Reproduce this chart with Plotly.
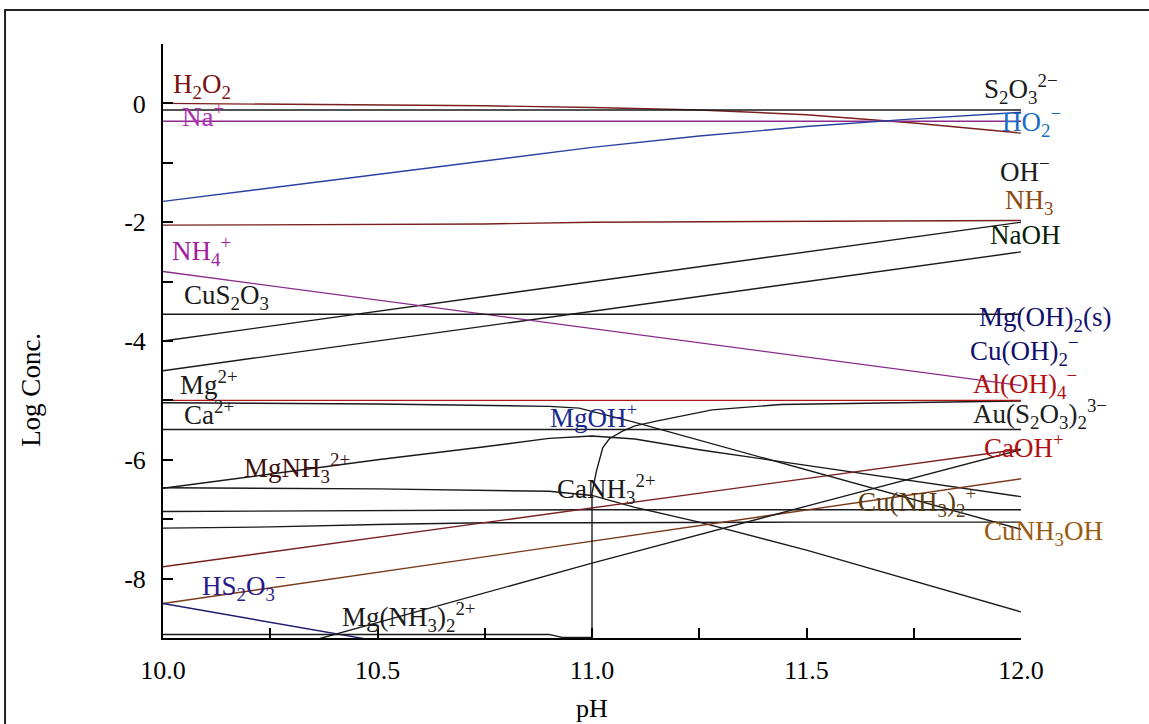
import plotly.graph_objects as go

# ---------------- data ----------------
ph_grid = [10.0, 10.25, 10.5, 10.75, 11.0, 11.25, 11.5, 11.75, 12.0]
ph_ends = [10.0, 12.0]

h2o2 = [0.0, -0.01, -0.02, -0.04, -0.07, -0.11, -0.19, -0.33, -0.50]
s2o3 = [-0.11, -0.11]
na_ion = [-0.30, -0.30]
ho2 = [-1.65, -1.42, -1.19, -0.96, -0.74, -0.55, -0.39, -0.26, -0.15]
nh3 = [-2.05, -2.04, -2.04, -2.03, -2.00, -1.99, -1.98, -1.98, -1.97]
oh = [-4.0, -2.0]
naoh = [-4.5, -2.5]
nh4 = [-2.83, -3.07, -3.31, -3.55, -3.78, -4.02, -4.27, -4.51, -4.75]
cus2o3 = [-3.55, -3.55]
mg_total = [-5.0, -5.0]
au_s2o3 = [-5.49, -5.49]
caoh = [-7.80, -5.82]
cunh3oh = [-8.42, -6.32]
cu_nh3_2 = [-6.87, -6.86, -6.85, -6.84, -6.84, -6.84, -6.84, -6.84, -6.84]
cuoh_aq = [-7.15, -7.13, -7.09, -7.06, -7.06, -7.05, -7.05, -7.05, -7.05]

ph_peak = [10.0, 10.25, 10.5, 10.75, 10.9, 11.0, 11.1, 11.25, 11.5, 11.75, 12.0]
mgnh3 = [-6.48, -6.24, -6.00, -5.78, -5.64, -5.60, -5.65, -5.83, -6.09, -6.35, -6.62]

ph_canh3 = [10.0, 10.5, 10.9, 11.0, 11.1, 11.25, 11.5, 11.75, 12.0]
canh3 = [-6.47, -6.49, -6.53, -6.60, -6.80, -7.05, -7.52, -8.04, -8.56]

ph_mg = [10.0, 10.5, 10.9, 10.97, 11.1, 11.5, 12.0]
mg_ion = [-5.04, -5.06, -5.10, -5.13, -5.37, -6.17, -7.17]

ph_solid = [10.0, 10.9, 10.93, 11.0, 11.0, 11.01, 11.025, 11.04, 11.07, 11.1, 11.15, 11.28, 11.44, 11.75, 12.0]
mgoh2_s = [-8.94, -8.94, -8.99, -8.99, -6.56, -6.20, -5.80, -5.65, -5.52, -5.43, -5.35, -5.16, -5.07, -5.03, -5.01]

ph_5 = [10.0, 10.5, 11.0, 11.5, 12.0]
mg_nh3_2 = [-9.74, -8.74, -7.74, -6.78, -5.83]

ph_3 = [10.0, 10.5, 11.0]
hs2o3 = [-8.42, -9.05, -9.70]

x_ticks = [10.0, 10.5, 11.0, 11.5, 12.0]
x_tick_text = ["10.0", "10.5", "11.0", "11.5", "12.0"]
y_ticks = [0, -2, -4, -6, -8]
y_tick_text = ["0", "-2", "-4", "-6", "-8"]

# ---------------- styles ----------------
MAROON = "#7a1f1f"
RED = "#b01515"
PURPLE = "#8b2a8b"
BLUE = "#2a40a0"
BROWN = "#7a3a1a"
NAVY = "#1c1c70"
BLACK = "#1a1a1a"
FONT = "Liberation Serif"

series = [
    (ph_grid, h2o2, MAROON, "H2O2"),
    (ph_ends, s2o3, BLACK, "S2O3"),
    (ph_ends, na_ion, PURPLE, "Na+"),
    (ph_grid, ho2, BLUE, "HO2-"),
    (ph_grid, nh3, MAROON, "NH3"),
    (ph_ends, oh, BLACK, "OH-"),
    (ph_ends, naoh, BLACK, "NaOH"),
    (ph_grid, nh4, PURPLE, "NH4+"),
    (ph_ends, cus2o3, BLACK, "CuS2O3"),
    (ph_ends, au_s2o3, BLACK, "Au(S2O3)2"),
    (ph_peak, mgnh3, BLACK, "MgNH3"),
    (ph_canh3, canh3, BLACK, "CaNH3"),
    (ph_grid, cu_nh3_2, BLACK, "Cu(NH3)2"),
    (ph_grid, cuoh_aq, BLACK, "CuOH"),
    (ph_ends, caoh, MAROON, "CaOH+"),
    (ph_ends, cunh3oh, BROWN, "CuNH3OH"),
    (ph_5, mg_nh3_2, BLACK, "Mg(NH3)2"),
    (ph_3, hs2o3, NAVY, "HS2O3-"),
    (ph_mg, mg_ion, BLACK, "Mg2+"),
    (ph_solid, mgoh2_s, BLACK, "Mg(OH)2(s)"),
    (ph_ends, mg_total, RED, "Ca2+"),
]

fig = go.Figure()
for xs, ys, col, name in series:
    fig.add_trace(go.Scatter(x=xs, y=ys, mode="lines", name=name,
                             line=dict(color=col, width=1.4), showlegend=False,
                             hoverinfo="skip"))

labels = [
    (10.019, 0.29, "H<sub>2</sub>O<sub>2</sub>", "#7a1010"),
    (10.040, -0.19, "Na<sup>+</sup>", "#b030b0"),
    (11.909, 0.25, "S<sub>2</sub>O<sub>3</sub><sup>2−</sup>", BLACK),
    (11.951, -0.31, "HO<sub>2</sub><sup>−</sup>", "#1a6ec8"),
    (11.946, -1.12, "OH<sup>−</sup>", BLACK),
    (11.958, -1.66, "NH<sub>3</sub>", "#8a4a10"),
    (11.923, -2.21, "NaOH", "#0a200a"),
    (10.016, -2.48, "NH<sub>4</sub><sup>+</sup>", "#a020a0"),
    (10.044, -3.26, "CuS<sub>2</sub>O<sub>3</sub>", BLACK),
    (11.897, -3.63, "Mg(OH)<sub>2</sub>(s)", "#10106a"),
    (11.876, -4.17, "Cu(OH)<sub>2</sub><sup>−</sup>", "#10106a"),
    (11.883, -4.72, "Al(OH)<sub>4</sub><sup>−</sup>", "#b01010"),
    (11.883, -5.23, "Au(S<sub>2</sub>O<sub>3</sub>)<sub>2</sub><sup>3−</sup>", "#202020"),
    (11.909, -5.77, "CaOH<sup>+</sup>", "#b01010"),
    (11.615, -6.71, "Cu(NH<sub>3</sub>)<sub>2</sub><sup>+</sup>", "#5a3a10"),
    (11.909, -7.23, "CuNH<sub>3</sub>OH", "#9a5a10"),
    (10.897, -5.26, "MgOH<sup>+</sup>", "#1a2a90"),
    (10.914, -6.49, "CaNH<sub>3</sub><sup>2+</sup>", BLACK),
    (10.035, -4.71, "Mg<sup>2+</sup>", BLACK),
    (10.044, -5.21, "Ca<sup>2+</sup>", "#202020"),
    (10.184, -6.14, "MgNH<sub>3</sub><sup>2+</sup>", "#401010"),
    (10.086, -8.12, "HS<sub>2</sub>O<sub>3</sub><sup>−</sup>", "#2a1a8a"),
    (10.413, -8.64, "Mg(NH<sub>3</sub>)<sub>2</sub><sup>2+</sup>", BLACK),
]
for lx, ly, txt, col in labels:
    fig.add_annotation(x=lx, y=ly, xref="x", yref="y", text=txt, showarrow=False,
                       xanchor="left", yanchor="middle",
                       font=dict(family=FONT, size=27, color=col))

# axis titles
fig.add_annotation(x=0.5, y=-0.118, xref="paper", yref="paper", text="pH",
                   showarrow=False, xanchor="center", yanchor="middle",
                   font=dict(family=FONT, size=26, color="black"))
fig.add_annotation(x=-0.154, y=0.4175, xref="paper", yref="paper", text="Log Conc.",
                   showarrow=False, xanchor="center", yanchor="middle", textangle=-90,
                   font=dict(family=FONT, size=27, color="black"))

# outer frame
fig.add_shape(type="rect", xref="paper", yref="paper", x0=-0.1841, y0=-0.2,
              x1=1.2, y1=1.0572, line=dict(color="#222222", width=2), layer="above")

fig.update_xaxes(range=[10, 12], showline=True, linecolor="black", linewidth=2,
                 ticks="inside", ticklen=10, tickwidth=1.5, tickcolor="black",
                 tickvals=x_ticks, ticktext=x_tick_text,
                 minor=dict(dtick=0.25, tick0=10, ticks="inside", ticklen=10,
                            tickwidth=1.5, tickcolor="black", showgrid=False),
                 showgrid=False, zeroline=False, ticklabelstandoff=8,
                 tickfont=dict(family=FONT, size=26, color="black"))
fig.update_yaxes(range=[-9, 1], showline=True, linecolor="black", linewidth=2,
                 ticks="inside", ticklen=10, tickwidth=1.5, tickcolor="black",
                 tickvals=y_ticks, ticktext=y_tick_text,
                 minor=dict(dtick=1, tick0=0, ticks="inside", ticklen=10,
                            tickwidth=1.5, tickcolor="black", showgrid=False),
                 showgrid=False, zeroline=False, ticklabelstandoff=10,
                 tickfont=dict(family=FONT, size=26, color="black"))

fig.update_layout(width=1149, height=724, autosize=False,
                  margin=dict(l=163, r=128, t=44, b=86),
                  paper_bgcolor="white", plot_bgcolor="white",
                  showlegend=False)

fig.write_html("out.html")
